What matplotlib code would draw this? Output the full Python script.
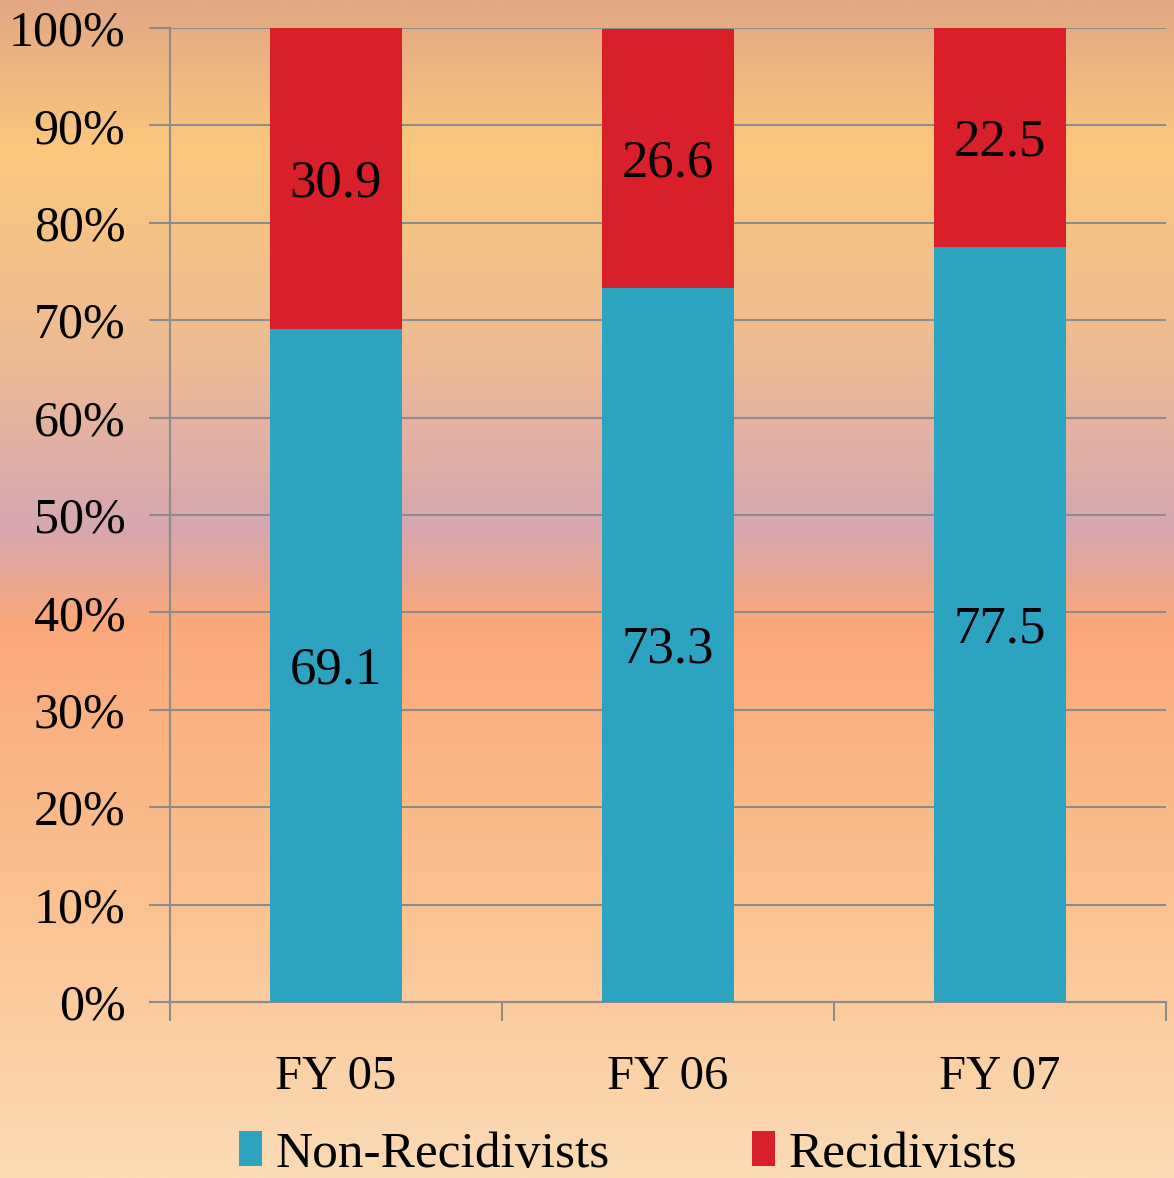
import numpy as np
import matplotlib
matplotlib.use("Agg")
import matplotlib.pyplot as plt
from matplotlib.colors import LinearSegmentedColormap
from matplotlib.patches import Patch

categories = ["FY 05", "FY 06", "FY 07"]
non_recidivists = [69.1, 73.3, 77.5]
recidivists = [30.9, 26.6, 22.5]
series_names = ["Non-Recidivists", "Recidivists"]
ytick_values = [0, 10, 20, 30, 40, 50, 60, 70, 80, 90, 100]
ytick_labels = ["0%", "10%", "20%", "30%", "40%", "50%", "60%", "70%", "80%", "90%", "100%"]

TEAL = "#2CA3C0"
RED = "#D91F29"
GRID = "#8C8C8C"
FONT = ["Liberation Serif", "DejaVu Serif"]

plt.rcParams["font.family"] = FONT

fig = plt.figure(figsize=(11.74, 11.78), dpi=100)

# background gradient
bg = fig.add_axes([0, 0, 1, 1], zorder=-10)
stops = [(0.0, "#E2A784"), (0.125, "#FBC87D"), (0.30, "#EDBB94"),
         (0.445, "#D6A7B0"), (0.53, "#FAA87A"), (0.75, "#FBC08E"), (1.0, "#FCDBB5")]
cmap = LinearSegmentedColormap.from_list("bg", stops)
grad = np.linspace(0, 1, 600).reshape(-1, 1)
bg.imshow(grad, aspect="auto", cmap=cmap, extent=[0, 1, 1, 0])
bg.axis("off")

ax = fig.add_axes([170/1174, 1 - 1002/1178, (1166-170)/1174, (1002-28)/1178])
ax.set_facecolor("none")

x = np.arange(len(categories))
width = 0.4
ax.bar(x, non_recidivists, width, color=TEAL, zorder=3)
ax.bar(x, recidivists, width, bottom=non_recidivists, color=RED, zorder=3)

for i in range(len(categories)):
    ax.text(x[i], non_recidivists[i] / 2 - 0.5, f"{non_recidivists[i]:.1f}", ha="center", va="center",
            fontsize=38, color="black", zorder=4)
    ax.text(x[i], non_recidivists[i] + recidivists[i] / 2 - 0.5, f"{recidivists[i]:.1f}", ha="center",
            va="center", fontsize=38, color="black", zorder=4)

ax.set_xlim(-0.5, len(categories) - 0.5)
ax.set_ylim(0, 100)
ax.set_yticks(ytick_values)
ax.set_yticklabels(ytick_labels, fontsize=36)
ax.yaxis.grid(True, color=GRID, linewidth=1.5, zorder=0)
ax.set_axisbelow(True)

ax.set_xticks(np.arange(-0.5, len(categories), 1.0))
ax.set_xticklabels([])
ax.set_xticks(x, minor=True)
ax.set_xticklabels(categories, minor=True, fontsize=35)
ax.tick_params(axis="x", which="minor", length=0, pad=38)
ax.tick_params(axis="x", which="major", length=14, width=1.5, color=GRID)
ax.tick_params(axis="y", length=15, width=1.5, color=GRID, pad=17)

for s in ["top", "right"]:
    ax.spines[s].set_visible(False)
for s in ["left", "bottom"]:
    ax.spines[s].set_color(GRID)
    ax.spines[s].set_linewidth(1.5)

handles = [Patch(facecolor=TEAL), Patch(facecolor=RED)]
fig.legend(handles, series_names, loc="center", bbox_to_anchor=(0.535, 0.02), ncol=2,
           frameon=False, fontsize=37, handlelength=0.45, handleheight=0.65,
           handletextpad=0.27, columnspacing=2.75, borderpad=0.0)

fig.savefig("out.png", dpi=100)
